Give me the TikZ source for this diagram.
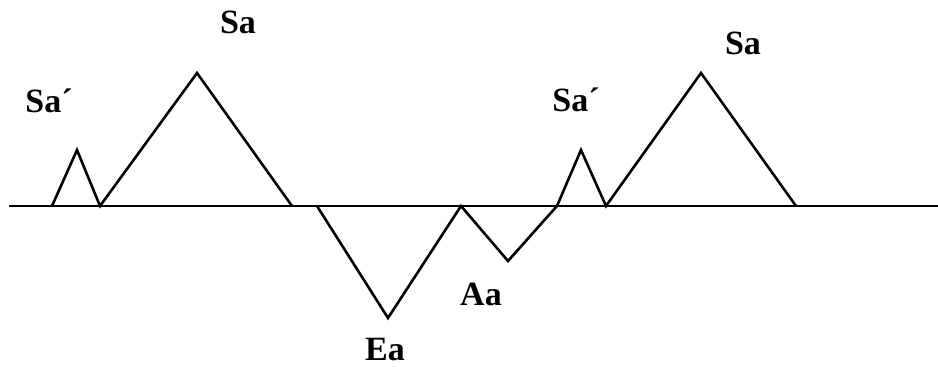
\documentclass[tikz,border=0pt]{standalone}
\usepackage{fontspec}
\setmainfont{Liberation Serif}
\begin{document}
\begin{tikzpicture}[x=1pt,y=-1pt,
  wave/.style={line width=2.6pt,line join=miter},
  base/.style={line width=1.8pt},
  lbl/.style={font=\fontsize{34}{38}\selectfont\bfseries,inner sep=0pt}]
\useasboundingbox (0,0) rectangle (938,367);
\coordinate (b0) at (9,206);
\coordinate (b1) at (938,206);
\draw[base] (b0) -- (b1);
\coordinate (p1) at (52,206);
\coordinate (p2) at (77,150);
\coordinate (p3) at (100,206);
\coordinate (p4) at (197,73);
\coordinate (p5) at (292,206);
\draw[wave] (p1) -- (p2) -- (p3) -- (p4) -- (p5);
\coordinate (q1) at (317,206);
\coordinate (q2) at (388,318);
\coordinate (q3) at (461,206);
\coordinate (q4) at (508,261);
\coordinate (q5) at (557,206);
\coordinate (q6) at (581,150);
\coordinate (q7) at (606,206);
\coordinate (q8) at (701,73);
\coordinate (q9) at (796,206);
\draw[wave] (q1) -- (q2) -- (q3) -- (q4) -- (q5) -- (q6) -- (q7) -- (q8) -- (q9);
\node[lbl] (l1) at (49,101) {Sa´};
\node[lbl] (l2) at (238,22) {Sa};
\node[lbl] (l3) at (576,100) {Sa´};
\node[lbl] (l4) at (743,43) {Sa};
\node[lbl] (l5) at (481,294) {Aa};
\node[lbl] (l6) at (385,350) {Ea};
\end{tikzpicture}
\end{document}
